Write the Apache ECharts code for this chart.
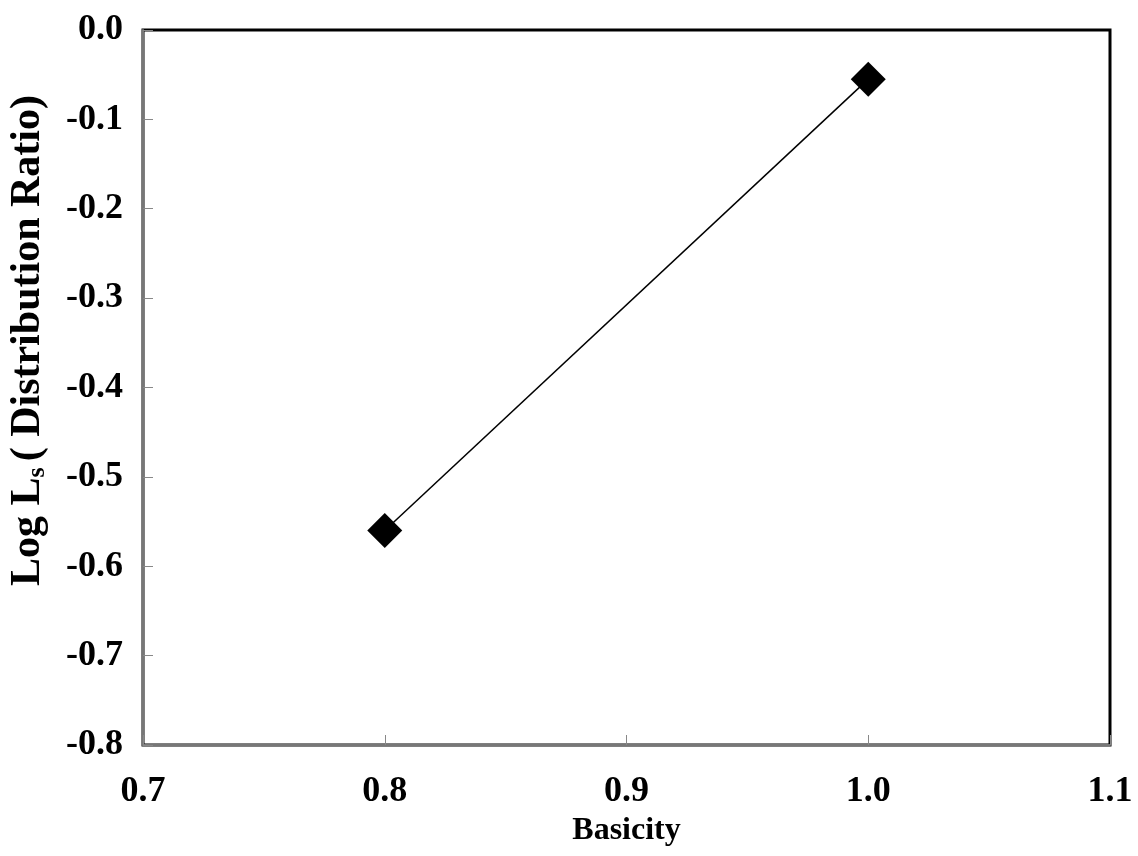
<!DOCTYPE html>
<html>
<head>
<meta charset="utf-8">
<script src="https://cdn.jsdelivr.net/npm/echarts@6/dist/echarts.min.js"></script>
<style>html,body{margin:0;padding:0;background:#fff;}#c{width:1138px;height:856px;}</style>
</head>
<body>
<div id="c"></div>
<script>
const basicity = [0.8, 1.0];
const logLs = [-0.56, -0.055];
const xTicks = [0.7, 0.8, 0.9, 1.0, 1.1];
const yTicks = [0.0, -0.1, -0.2, -0.3, -0.4, -0.5, -0.6, -0.7, -0.8];

const font = '"Liberation Serif", "Times New Roman", serif';
const chart = echarts.init(document.getElementById('c'), null, {renderer: 'canvas'});
chart.setOption({
  animation: false,
  backgroundColor: '#fff',
  grid: {left: 143, top: 30, right: 28, bottom: 111, outerBoundsMode: 'none', containLabel: false,
    show: true, borderColor: '#000', borderWidth: 3, backgroundColor: 'transparent'},
  xAxis: {
    type: 'value', min: 0.7, max: 1.1, interval: 0.1,
    name: 'Basicity', nameLocation: 'middle', nameGap: 68,
    nameTextStyle: {fontFamily: font, fontWeight: 'bold', fontSize: 32, color: '#000'},
    axisLine: {show: true, onZero: false, lineStyle: {color: '#777', width: 2}},
    axisTick: {show: true, inside: true, length: 10, lineStyle: {color: '#888', width: 1}},
    splitLine: {show: false},
    axisLabel: {fontFamily: font, fontWeight: 'bold', fontSize: 36, color: '#000', margin: 29,
      formatter: v => v.toFixed(1)}
  },
  yAxis: {
    type: 'value', min: -0.8, max: 0, interval: 0.1,
    name: '{a|Log L}{s|s}{a|( Distribution Ratio)}', nameLocation: 'middle', nameGap: 93,
    nameTextStyle: {fontFamily: font, fontWeight: 'bold', fontSize: 42, color: '#000', padding: [0, 0, 0, 94], rich: {
      a: {fontFamily: font, fontWeight: 'bold', fontSize: 42, color: '#000'},
      s: {fontFamily: font, fontWeight: 'bold', fontSize: 26, color: '#000', verticalAlign: 'bottom', padding: [17, 6, 0, 0]}
    }},
    axisLine: {show: true, onZero: false, lineStyle: {color: '#777', width: 2}},
    axisTick: {show: true, inside: true, length: 10, lineStyle: {color: '#888', width: 1}},
    splitLine: {show: false},
    axisLabel: {fontFamily: font, fontWeight: 'bold', fontSize: 36, color: '#000', margin: 20,
      formatter: v => v.toFixed(1)}
  },
  series: [{
    type: 'line',
    data: basicity.map((x, i) => [x, logLs[i]]),
    symbol: 'diamond', symbolSize: 35,
    itemStyle: {color: '#000'},
    lineStyle: {color: '#000', width: 1.5}
  }]
});
</script>
</body>
</html>
